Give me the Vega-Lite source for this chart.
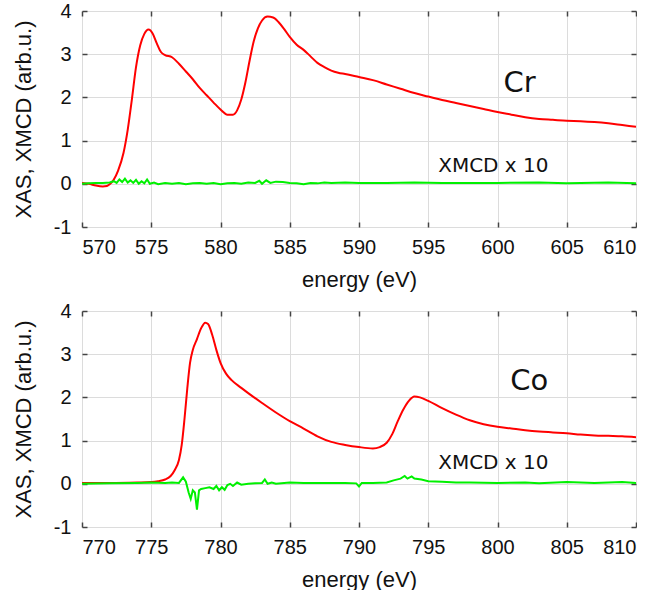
{
  "$schema": "https://vega.github.io/schema/vega-lite/v6.json",
  "background": "white",
  "padding": {"left": 12, "top": 1, "right": 0, "bottom": 0},
  "config": {
    "view": {"stroke": null},
    "font": "Liberation Sans",
    "axis": {
      "labelFont": "Liberation Sans",
      "titleFont": "Liberation Sans",
      "labelFontSize": 20,
      "titleFontSize": 22,
      "titleFontWeight": "normal",
      "labelColor": "#111",
      "titleColor": "#111",
      "gridColor": "#dcdcdc",
      "gridOpacity": 1,
      "domain": false,
      "tickColor": "#444",
      "tickWidth": 1.5,
      "tickSize": -5
    }
  },
  "datasets": {
    "cr_xas": [
      {"energy": 570, "value": 0.02}, {"energy": 570.5, "value": 0.0}, {"energy": 571, "value": -0.04}, {"energy": 571.5, "value": -0.06},
      {"energy": 571.8, "value": -0.05}, {"energy": 572, "value": -0.01}, {"energy": 572.3, "value": 0.1}, {"energy": 572.6, "value": 0.3},
      {"energy": 573, "value": 0.72}, {"energy": 573.3, "value": 1.25}, {"energy": 573.6, "value": 1.95}, {"energy": 573.9, "value": 2.7},
      {"energy": 574.2, "value": 3.2}, {"energy": 574.5, "value": 3.47}, {"energy": 574.8, "value": 3.57}, {"energy": 575.1, "value": 3.48},
      {"energy": 575.4, "value": 3.25}, {"energy": 575.7, "value": 3.05}, {"energy": 576, "value": 2.98}, {"energy": 576.5, "value": 2.93},
      {"energy": 577, "value": 2.78}, {"energy": 577.5, "value": 2.6}, {"energy": 578, "value": 2.42}, {"energy": 578.5, "value": 2.22},
      {"energy": 579, "value": 2.05}, {"energy": 579.5, "value": 1.88}, {"energy": 580, "value": 1.72}, {"energy": 580.5, "value": 1.6},
      {"energy": 580.9, "value": 1.6}, {"energy": 581.2, "value": 1.7}, {"energy": 581.5, "value": 1.95}, {"energy": 581.8, "value": 2.35},
      {"energy": 582.1, "value": 2.85}, {"energy": 582.4, "value": 3.3}, {"energy": 582.7, "value": 3.6}, {"energy": 583, "value": 3.78},
      {"energy": 583.4, "value": 3.87}, {"energy": 583.8, "value": 3.85}, {"energy": 584.2, "value": 3.74}, {"energy": 584.6, "value": 3.58},
      {"energy": 585, "value": 3.4}, {"energy": 585.5, "value": 3.22}, {"energy": 586, "value": 3.1}, {"energy": 586.5, "value": 2.95},
      {"energy": 587, "value": 2.8}, {"energy": 587.5, "value": 2.7}, {"energy": 588, "value": 2.62}, {"energy": 588.5, "value": 2.57},
      {"energy": 589, "value": 2.54}, {"energy": 590, "value": 2.47}, {"energy": 591, "value": 2.4}, {"energy": 592, "value": 2.3},
      {"energy": 593, "value": 2.2}, {"energy": 594, "value": 2.1}, {"energy": 595, "value": 2.02}, {"energy": 596, "value": 1.94},
      {"energy": 597, "value": 1.87}, {"energy": 598, "value": 1.8}, {"energy": 599, "value": 1.73}, {"energy": 600, "value": 1.66},
      {"energy": 601, "value": 1.6}, {"energy": 602, "value": 1.54}, {"energy": 603, "value": 1.5}, {"energy": 604, "value": 1.48},
      {"energy": 605, "value": 1.46}, {"energy": 606, "value": 1.45}, {"energy": 607, "value": 1.43}, {"energy": 608, "value": 1.4},
      {"energy": 609, "value": 1.36}, {"energy": 610, "value": 1.32}
    ],
    "cr_xmcd": [
      {"energy": 570, "value": 0.0}, {"energy": 570.5, "value": 0.01}, {"energy": 571, "value": 0.02}, {"energy": 571.5, "value": 0.02},
      {"energy": 572, "value": 0.03}, {"energy": 572.3, "value": 0.06}, {"energy": 572.5, "value": 0.02}, {"energy": 572.7, "value": 0.1},
      {"energy": 572.9, "value": 0.04}, {"energy": 573.1, "value": 0.12}, {"energy": 573.3, "value": 0.03}, {"energy": 573.5, "value": 0.08},
      {"energy": 573.7, "value": 0.02}, {"energy": 573.9, "value": 0.09}, {"energy": 574.1, "value": 0.0}, {"energy": 574.3, "value": 0.06},
      {"energy": 574.5, "value": 0.01}, {"energy": 574.7, "value": 0.1}, {"energy": 574.9, "value": 0.0}, {"energy": 575.2, "value": 0.03},
      {"energy": 575.5, "value": -0.01}, {"energy": 576, "value": 0.02}, {"energy": 576.5, "value": 0.0}, {"energy": 577, "value": 0.02},
      {"energy": 577.5, "value": -0.01}, {"energy": 578, "value": 0.01}, {"energy": 578.5, "value": 0.02}, {"energy": 579, "value": 0.0},
      {"energy": 579.5, "value": 0.02}, {"energy": 580, "value": -0.01}, {"energy": 580.5, "value": 0.01}, {"energy": 581, "value": 0.02},
      {"energy": 581.5, "value": 0.0}, {"energy": 582, "value": 0.03}, {"energy": 582.5, "value": 0.02}, {"energy": 582.8, "value": 0.07},
      {"energy": 583, "value": 0.0}, {"energy": 583.3, "value": 0.08}, {"energy": 583.6, "value": 0.02}, {"energy": 584, "value": 0.05},
      {"energy": 584.5, "value": 0.04}, {"energy": 585, "value": 0.02}, {"energy": 585.5, "value": 0.01}, {"energy": 586, "value": -0.01},
      {"energy": 586.5, "value": 0.02}, {"energy": 587, "value": 0.01}, {"energy": 587.5, "value": 0.03}, {"energy": 588, "value": 0.02},
      {"energy": 589, "value": 0.03}, {"energy": 590, "value": 0.02}, {"energy": 592, "value": 0.02}, {"energy": 594, "value": 0.03},
      {"energy": 596, "value": 0.02}, {"energy": 598, "value": 0.02}, {"energy": 600, "value": 0.02}, {"energy": 603, "value": 0.03},
      {"energy": 605, "value": 0.01}, {"energy": 608, "value": 0.03}, {"energy": 610, "value": 0.01}
    ],
    "co_xas": [
      {"energy": 770, "value": 0.02}, {"energy": 772, "value": 0.02}, {"energy": 774, "value": 0.03}, {"energy": 775, "value": 0.04},
      {"energy": 775.5, "value": 0.06}, {"energy": 776, "value": 0.1}, {"energy": 776.4, "value": 0.18}, {"energy": 776.7, "value": 0.32},
      {"energy": 777, "value": 0.55}, {"energy": 777.2, "value": 0.9}, {"energy": 777.4, "value": 1.5}, {"energy": 777.6, "value": 2.2},
      {"energy": 777.8, "value": 2.8}, {"energy": 778, "value": 3.1}, {"energy": 778.3, "value": 3.35}, {"energy": 778.6, "value": 3.6},
      {"energy": 778.9, "value": 3.73}, {"energy": 779.1, "value": 3.7}, {"energy": 779.4, "value": 3.45}, {"energy": 779.7, "value": 3.1},
      {"energy": 780, "value": 2.8}, {"energy": 780.4, "value": 2.55}, {"energy": 780.8, "value": 2.4}, {"energy": 781.5, "value": 2.22},
      {"energy": 782, "value": 2.1}, {"energy": 783, "value": 1.87}, {"energy": 784, "value": 1.65}, {"energy": 785, "value": 1.45},
      {"energy": 786, "value": 1.28}, {"energy": 787, "value": 1.1}, {"energy": 788, "value": 0.97}, {"energy": 789, "value": 0.9},
      {"energy": 790, "value": 0.85}, {"energy": 791, "value": 0.82}, {"energy": 791.5, "value": 0.85}, {"energy": 792, "value": 0.95},
      {"energy": 792.4, "value": 1.15}, {"energy": 792.8, "value": 1.45}, {"energy": 793.2, "value": 1.72}, {"energy": 793.6, "value": 1.92},
      {"energy": 794, "value": 2.02}, {"energy": 794.4, "value": 2.0}, {"energy": 795, "value": 1.92}, {"energy": 796, "value": 1.75},
      {"energy": 797, "value": 1.6}, {"energy": 798, "value": 1.47}, {"energy": 799, "value": 1.38}, {"energy": 800, "value": 1.32},
      {"energy": 801, "value": 1.28}, {"energy": 802, "value": 1.24}, {"energy": 803, "value": 1.21}, {"energy": 804, "value": 1.19},
      {"energy": 805, "value": 1.17}, {"energy": 806, "value": 1.14}, {"energy": 807, "value": 1.12}, {"energy": 808, "value": 1.11},
      {"energy": 809, "value": 1.1}, {"energy": 810, "value": 1.08}
    ],
    "co_xmcd": [
      {"energy": 770, "value": 0.0}, {"energy": 772, "value": 0.01}, {"energy": 774, "value": 0.02}, {"energy": 775, "value": 0.03},
      {"energy": 776, "value": 0.02}, {"energy": 776.5, "value": 0.03}, {"energy": 777, "value": 0.02}, {"energy": 777.3, "value": 0.15},
      {"energy": 777.5, "value": 0.05}, {"energy": 777.7, "value": -0.2}, {"energy": 777.85, "value": -0.35}, {"energy": 778, "value": -0.15},
      {"energy": 778.15, "value": -0.2}, {"energy": 778.3, "value": -0.6}, {"energy": 778.45, "value": -0.15}, {"energy": 778.6, "value": -0.12},
      {"energy": 778.9, "value": -0.1}, {"energy": 779.2, "value": -0.08}, {"energy": 779.5, "value": -0.12}, {"energy": 779.7, "value": -0.05},
      {"energy": 779.9, "value": -0.15}, {"energy": 780.1, "value": -0.08}, {"energy": 780.3, "value": -0.14}, {"energy": 780.5, "value": -0.03},
      {"energy": 780.7, "value": 0.0}, {"energy": 780.9, "value": -0.05}, {"energy": 781.2, "value": 0.03}, {"energy": 781.5, "value": -0.02},
      {"energy": 782, "value": 0.0}, {"energy": 782.5, "value": 0.01}, {"energy": 783, "value": 0.02}, {"energy": 783.2, "value": 0.1},
      {"energy": 783.4, "value": 0.0}, {"energy": 783.7, "value": 0.03}, {"energy": 784, "value": 0.0}, {"energy": 785, "value": 0.03},
      {"energy": 786, "value": 0.02}, {"energy": 787, "value": 0.02}, {"energy": 788, "value": 0.02}, {"energy": 789, "value": 0.02},
      {"energy": 789.8, "value": 0.01}, {"energy": 790, "value": -0.06}, {"energy": 790.2, "value": 0.02}, {"energy": 791, "value": 0.02},
      {"energy": 792, "value": 0.03}, {"energy": 792.5, "value": 0.08}, {"energy": 793, "value": 0.12}, {"energy": 793.3, "value": 0.18},
      {"energy": 793.5, "value": 0.12}, {"energy": 793.8, "value": 0.17}, {"energy": 794, "value": 0.12}, {"energy": 794.5, "value": 0.1},
      {"energy": 795, "value": 0.06}, {"energy": 796, "value": 0.05}, {"energy": 797, "value": 0.03}, {"energy": 798, "value": 0.03},
      {"energy": 800, "value": 0.02}, {"energy": 802, "value": 0.03}, {"energy": 803, "value": 0.01}, {"energy": 805, "value": 0.04},
      {"energy": 807, "value": 0.02}, {"energy": 809, "value": 0.04}, {"energy": 810, "value": 0.02}
    ],
    "cr_labels": [
      {"energy": 601.6, "value": 2.33, "label": "Cr", "kind": "element"},
      {"energy": 599.7, "value": 0.41, "label": "XMCD x 10", "kind": "note"}
    ],
    "co_labels": [
      {"energy": 802.3, "value": 2.38, "label": "Co", "kind": "element"},
      {"energy": 799.7, "value": 0.48, "label": "XMCD x 10", "kind": "note"}
    ]
  },
  "vconcat": [
    {
      "width": 554,
      "height": 216,
      "layer": [
        {
          "data": {"name": "cr_xas"},
          "mark": {"type": "line", "color": "#ff0000", "strokeWidth": 2, "interpolate": "monotone", "clip": true},
          "encoding": {
            "x": {"field": "energy", "type": "quantitative", "scale": {"domain": [570, 610], "nice": false},
                  "axis": {"orient": "bottom", "title": "energy (eV)", "values": [570, 575, 580, 585, 590, 595, 600, 605, 610], "grid": true, "labelPadding": 15, "titlePadding": 12}},
            "y": {"field": "value", "type": "quantitative", "scale": {"domain": [-1, 4], "nice": false},
                  "axis": {"orient": "left", "title": "XAS, XMCD (arb.u.)", "values": [-1, 0, 1, 2, 3, 4], "labelExpr": "datum.value < 0 ? '-' + abs(datum.value) : '' + datum.value", "grid": true, "labelPadding": 16, "titlePadding": 18}}
          }
        },
        {
          "data": {"name": "cr_xmcd"},
          "mark": {"type": "line", "color": "#00f000", "strokeWidth": 2, "clip": true},
          "encoding": {
            "x": {"field": "energy", "type": "quantitative",
                  "axis": {"orient": "top", "title": null, "labels": false, "grid": false, "values": [570, 575, 580, 585, 590, 595, 600, 605, 610]}},
            "y": {"field": "value", "type": "quantitative",
                  "axis": {"orient": "right", "title": null, "labels": false, "grid": false, "values": [-1, 0, 1, 2, 3, 4]}}
          }
        },
        {
          "data": {"name": "cr_labels"},
          "transform": [{"filter": "datum.kind == 'element'"}],
          "mark": {"type": "text", "font": "DejaVu Sans", "fontSize": 29, "color": "#111"},
          "encoding": {
            "x": {"field": "energy", "type": "quantitative", "axis": null},
            "y": {"field": "value", "type": "quantitative", "axis": null},
            "text": {"field": "label"}
          }
        },
        {
          "data": {"name": "cr_labels"},
          "transform": [{"filter": "datum.kind == 'note'"}],
          "mark": {"type": "text", "font": "DejaVu Sans", "fontSize": 20, "color": "#111"},
          "encoding": {
            "x": {"field": "energy", "type": "quantitative", "axis": null},
            "y": {"field": "value", "type": "quantitative", "axis": null},
            "text": {"field": "label"}
          }
        }
      ],
      "resolve": {"axis": {"x": "independent", "y": "independent"}}
    },
    {
      "width": 554,
      "height": 216,
      "layer": [
        {
          "data": {"name": "co_xas"},
          "mark": {"type": "line", "color": "#ff0000", "strokeWidth": 2, "interpolate": "monotone", "clip": true},
          "encoding": {
            "x": {"field": "energy", "type": "quantitative", "scale": {"domain": [770, 810], "nice": false},
                  "axis": {"orient": "bottom", "title": "energy (eV)", "values": [770, 775, 780, 785, 790, 795, 800, 805, 810], "grid": true, "labelPadding": 15, "titlePadding": 12}},
            "y": {"field": "value", "type": "quantitative", "scale": {"domain": [-1, 4], "nice": false},
                  "axis": {"orient": "left", "title": "XAS, XMCD (arb.u.)", "values": [-1, 0, 1, 2, 3, 4], "labelExpr": "datum.value < 0 ? '-' + abs(datum.value) : '' + datum.value", "grid": true, "labelPadding": 16, "titlePadding": 18}}
          }
        },
        {
          "data": {"name": "co_xmcd"},
          "mark": {"type": "line", "color": "#00f000", "strokeWidth": 2, "clip": true},
          "encoding": {
            "x": {"field": "energy", "type": "quantitative",
                  "axis": {"orient": "top", "title": null, "labels": false, "grid": false, "values": [770, 775, 780, 785, 790, 795, 800, 805, 810]}},
            "y": {"field": "value", "type": "quantitative",
                  "axis": {"orient": "right", "title": null, "labels": false, "grid": false, "values": [-1, 0, 1, 2, 3, 4]}}
          }
        },
        {
          "data": {"name": "co_labels"},
          "transform": [{"filter": "datum.kind == 'element'"}],
          "mark": {"type": "text", "font": "DejaVu Sans", "fontSize": 29, "color": "#111"},
          "encoding": {
            "x": {"field": "energy", "type": "quantitative", "axis": null},
            "y": {"field": "value", "type": "quantitative", "axis": null},
            "text": {"field": "label"}
          }
        },
        {
          "data": {"name": "co_labels"},
          "transform": [{"filter": "datum.kind == 'note'"}],
          "mark": {"type": "text", "font": "DejaVu Sans", "fontSize": 20, "color": "#111"},
          "encoding": {
            "x": {"field": "energy", "type": "quantitative", "axis": null},
            "y": {"field": "value", "type": "quantitative", "axis": null},
            "text": {"field": "label"}
          }
        }
      ],
      "resolve": {"axis": {"x": "independent", "y": "independent"}}
    }
  ],
  "spacing": 11
}
